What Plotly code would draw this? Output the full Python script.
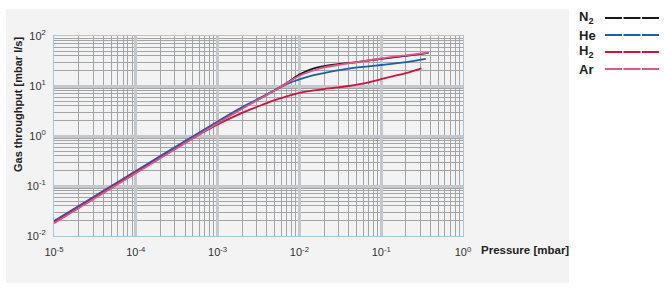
import plotly.graph_objects as go

# ---- data ----
p_n2 = [1e-5, 1e-4, 1e-3, 2e-3, 3e-3, 5e-3, 7e-3, 0.01, 0.015, 0.02, 0.03, 0.05, 0.1, 0.2, 0.38]
q_n2 = [0.019, 0.19, 1.85, 3.6, 5.2, 8.2, 11.5, 17, 22.5, 25, 27.5, 30, 35, 40, 46]

p_he = [1e-5, 1e-4, 1e-3, 2e-3, 3e-3, 5e-3, 7.8e-3, 0.01, 0.015, 0.024, 0.04, 0.074, 0.1, 0.2, 0.35]
q_he = [0.02, 0.2, 1.95, 3.8, 5.3, 8.2, 11.8, 13.6, 16.5, 19.3, 22.3, 25, 26.3, 30, 35]

p_h2 = [1e-5, 1e-4, 5e-4, 1e-3, 2e-3, 3e-3, 5e-3, 0.01, 0.02, 0.04, 0.07, 0.1, 0.2, 0.31]
q_h2 = [0.0185, 0.185, 0.9, 1.7, 2.9, 3.8, 5.2, 7.3, 8.7, 10, 11.8, 13.8, 18, 22.5]

p_ar = [1e-5, 1e-4, 1e-3, 2e-3, 3e-3, 5e-3, 7e-3, 0.01, 0.015, 0.02, 0.03, 0.05, 0.1, 0.2, 0.38]
q_ar = [0.018, 0.18, 1.8, 3.5, 5.1, 8.1, 11.3, 16, 20.5, 23.5, 26.5, 30, 35.5, 41, 46.5]

x_tick_vals = [1e-5, 1e-4, 1e-3, 1e-2, 1e-1, 1e0]
x_tick_text = ["10<sup>-5</sup>", "10<sup>-4</sup>", "10<sup>-3</sup>", "10<sup>-2</sup>", "10<sup>-1</sup>", "10<sup>0</sup>"]
y_tick_vals = [1e-2, 1e-1, 1e0, 1e1, 1e2]
y_tick_text = ["10<sup>-2</sup>", "10<sup>-1</sup>", "10<sup>0</sup>", "10<sup>1</sup>", "10<sup>2</sup>"]

series_names = ["N<sub>2</sub>", "He", "H<sub>2</sub>", "Ar"]
series_colors = ["#1a1a1a", "#1f5ea8", "#d4123e", "#e8538c"]

x_minor = [m * 10 ** e for e in range(-5, 0) for m in range(2, 10)]
y_minor = [m * 10 ** e for e in range(-2, 2) for m in range(2, 10)]

FONT = "Liberation Sans, Arial, sans-serif"

fig = go.Figure()
data = [(p_n2, q_n2), (p_he, q_he), (p_h2, q_h2), (p_ar, q_ar)]
for (px, qy), name, col in zip(data, series_names, series_colors):
    fig.add_trace(go.Scatter(x=px, y=qy, mode="lines", name=name,
                             line=dict(color=col, width=1.8, shape="spline", smoothing=1.0),
                             showlegend=False, hoverinfo="skip"))

W, H = 664, 291
L, R, T, B = 54, 201, 36, 55

fig.update_layout(
    width=W, height=H,
    margin=dict(l=L, r=R, t=T, b=B, pad=0),
    paper_bgcolor="white",
    plot_bgcolor="#f5f6f5",
    font=dict(family=FONT, size=11, color="#333333"),
    xaxis=dict(type="log", range=[-5, 0], tickvals=x_tick_vals, ticktext=x_tick_text,
               showgrid=True, gridcolor="#c4c8cc", gridwidth=2.5,
               minor=dict(tickvals=x_minor, showgrid=True, gridcolor="#a2a4a6", gridwidth=1, ticks=""),
               ticks="outside", ticklen=6, tickcolor="rgba(0,0,0,0)",
               showline=True, linecolor="#a9c6dc", linewidth=1, mirror=True,
               zeroline=False, tickfont=dict(size=11, color="#333333")),
    yaxis=dict(type="log", range=[-2, 2], tickvals=y_tick_vals, ticktext=y_tick_text,
               showgrid=True, gridcolor="#c4c8cc", gridwidth=2.5,
               minor=dict(tickvals=y_minor, showgrid=True, gridcolor="#a2a4a6", gridwidth=1, ticks=""),
               ticks="outside", ticklen=5, tickcolor="rgba(0,0,0,0)",
               showline=True, linecolor="#a9c6dc", linewidth=1, mirror=True,
               zeroline=False, tickfont=dict(size=11, color="#333333")),
)

# gray panel behind
fig.add_shape(type="rect", xref="paper", yref="paper", layer="below",
              x0=(6 - L) / (W - L - R), x1=(569 - L) / (W - L - R),
              y0=(H - B - 283) / (H - T - B), y1=(H - B - 9) / (H - T - B),
              fillcolor="#f2f3f2", line=dict(width=0))

def px_to_paper_x(x):
    return (x - L) / (W - L - R)

def py_to_paper_y(y):
    return (H - B - y) / (H - T - B)

# axis titles
fig.add_annotation(text="<b>Gas throughput [mbar l/s]</b>", xref="paper", yref="paper",
                   x=px_to_paper_x(18), y=py_to_paper_y(105), textangle=-90, showarrow=False,
                   font=dict(size=11, color="#222222", family=FONT), xanchor="center", yanchor="middle")
fig.add_annotation(text="<b>Pressure [mbar]</b>", xref="paper", yref="paper",
                   x=px_to_paper_x(479), y=py_to_paper_y(250), showarrow=False,
                   font=dict(size=11.5, color="#222222", family=FONT), xanchor="left", yanchor="middle")

# custom legend
leg_y = [18, 35, 52, 69]
for name, col, yy in zip(series_names, series_colors, leg_y):
    fig.add_annotation(text="<b>" + name + "</b>", xref="paper", yref="paper",
                       x=px_to_paper_x(577), y=py_to_paper_y(yy), showarrow=False,
                       font=dict(size=13, color="#222222", family=FONT), xanchor="left", yanchor="middle")
    fig.add_shape(type="line", xref="paper", yref="paper",
                  x0=px_to_paper_x(605), x1=px_to_paper_x(660),
                  y0=py_to_paper_y(yy), y1=py_to_paper_y(yy),
                  line=dict(color=col, width=2, dash="17px,1.5px"))

fig.write_html("out.html")
